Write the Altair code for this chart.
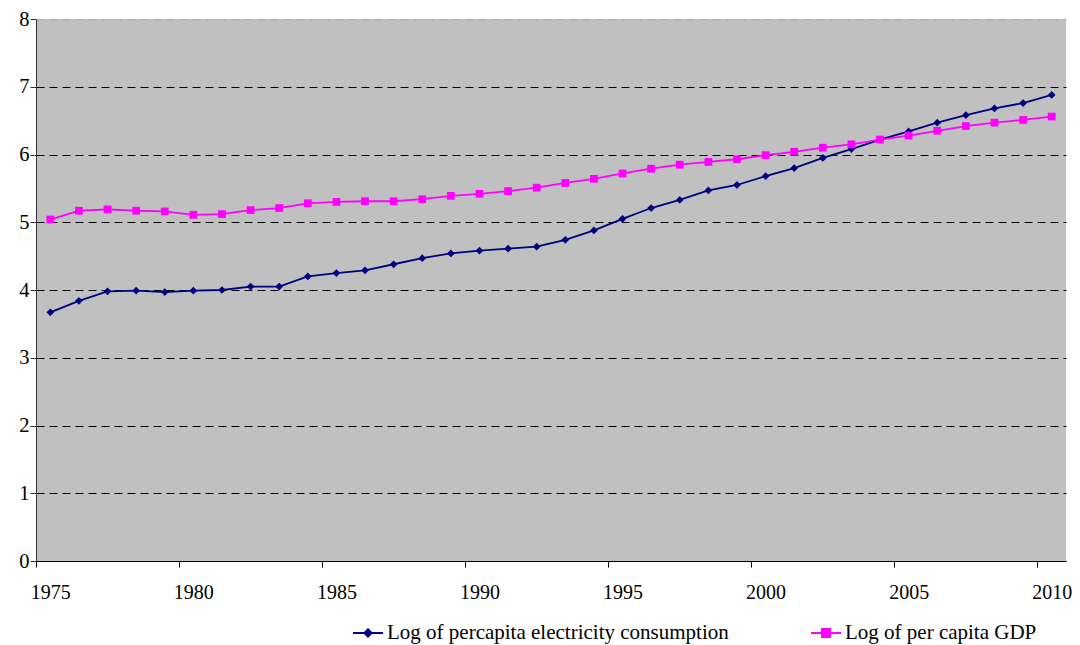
import altair as alt
import pandas as pd

years = list(range(1975, 2011))
elec = [3.67, 3.84, 3.98, 3.99, 3.97, 3.99, 4.00, 4.05, 4.05, 4.20,
        4.25, 4.29, 4.38, 4.47, 4.54, 4.58, 4.61, 4.64, 4.74, 4.88,
        5.05, 5.21, 5.33, 5.47, 5.55, 5.68, 5.80, 5.95, 6.08, 6.22,
        6.34, 6.47, 6.58, 6.68, 6.76, 6.88]
gdp = [5.04, 5.17, 5.19, 5.17, 5.16, 5.11, 5.12, 5.18, 5.21, 5.28,
       5.30, 5.31, 5.31, 5.34, 5.39, 5.42, 5.46, 5.51, 5.58, 5.64,
       5.72, 5.79, 5.85, 5.89, 5.93, 5.99, 6.04, 6.10, 6.15, 6.22,
       6.28, 6.35, 6.42, 6.47, 6.51, 6.56]
series_names = ["Log of percapita electricity consumption", "Log of per capita GDP"]
colors = ["#000080", "#FF00FF"]
marker_shapes = ["diamond", "square"]
legend_paths = [
    "M-1,0H1M0,-0.25L0.25,0L0,0.25L-0.25,0Z",
    "M-1,0H1M-0.27,-0.27H0.27V0.27H-0.27Z",
]
x_ticks = list(range(1975, 2011, 5))
y_ticks = list(range(0, 9))

rows = []
for yr, e, g in zip(years, elec, gdp):
    rows.append({"year": yr, "series": series_names[0], "value": e})
    rows.append({"year": yr, "series": series_names[1], "value": g})
df = pd.DataFrame(rows)

FONT = "Liberation Serif, Times New Roman, DejaVu Serif, serif"
W, H = 1030, 542
X0, X1 = 1975, 2011

x = alt.X(
    "xpos:Q",
    scale=alt.Scale(domain=[X0, X1], nice=False, zero=False),
    axis=alt.Axis(
        values=x_ticks, format="d", title=None, grid=False,
        tickSize=6, labelPadding=15, labelFont=FONT, labelFontSize=20,
        labelColor="black", domainColor="black", tickColor="black",
        labelFlush=False, labelOverlap=False,
        labelOffset=0.5 * W / (X1 - X0),
    ),
)
y = alt.Y(
    "value:Q",
    scale=alt.Scale(domain=[0, 8], nice=False),
    axis=alt.Axis(
        values=y_ticks, title=None, grid=True, gridDash=[8, 5],
        gridColor=alt.condition("datum.value === 8", alt.value("#A8A8A8"), alt.value("black")),
        gridWidth=1, tickSize=6, labelPadding=1, labelFont=FONT, labelFontSize=20.5,
        labelColor="black", domainColor="#333333", tickColor="#333333",
    ),
)

base = alt.Chart(df).transform_calculate(xpos="datum.year + 0.5")

layers = []
for name, col, shp in zip(series_names, colors, marker_shapes):
    sub = base.transform_filter(alt.datum.series == name)
    layers.append(sub.mark_line(color=col, strokeWidth=1.8).encode(x=x, y=y))
    layers.append(
        sub.mark_point(filled=True, color=col, shape=shp, size=60, opacity=1).encode(x=x, y=y)
    )

leg = alt.Legend(
    title=None, orient="none", legendX=316, legendY=598, direction="horizontal",
    columns=2, columnPadding=78, labelFont=FONT, labelFontSize=21, labelColor="black",
    labelLimit=600, symbolSize=900, symbolStrokeWidth=1.8, labelOffset=3, padding=0,
)
legend_layer = base.transform_filter("false").mark_point(filled=True, opacity=1, strokeWidth=1.8).encode(
    x=x, y=y,
    color=alt.Color("series:N", scale=alt.Scale(domain=series_names, range=colors), legend=leg),
    stroke=alt.Stroke("series:N", scale=alt.Scale(domain=series_names, range=colors), legend=leg),
    shape=alt.Shape("series:N", scale=alt.Scale(domain=series_names, range=legend_paths), legend=leg),
)
layers.append(legend_layer)

chart = alt.layer(*layers).properties(
    width=W, height=H,
    background="white",
    autosize=alt.AutoSizeParams(type="none"),
    padding={"left": 28, "top": 11, "right": 6, "bottom": 84},
).configure_view(fill="#C0C0C0", stroke=None)

chart.save("out.html", embed_options={"renderer": "svg", "actions": False})
